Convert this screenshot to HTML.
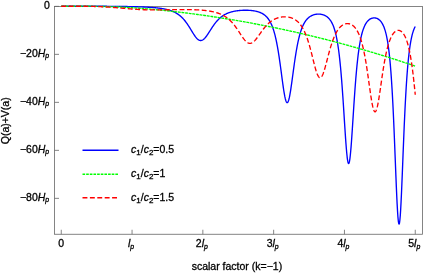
<!DOCTYPE html>
<html><head><meta charset="utf-8"><title>plot</title>
<style>
html,body{margin:0;padding:0;background:#fff;}
body{width:424px;height:273px;overflow:hidden;}
svg{display:block;will-change:transform;opacity:0.999;}
text{font-family:"Liberation Sans",sans-serif;font-size:10.5px;fill:#000;stroke:#000;stroke-width:0.3px;}
.i{font-style:italic;}
.s{font-style:italic;font-size:6.9px;}
</style></head><body>
<svg width="424" height="273" viewBox="0 0 424 273">

<defs><clipPath id="c"><rect x="54.5" y="4.45" width="368.0" height="229.8"/></clipPath></defs>

<g stroke="#666" stroke-width="0.8" fill="none">
<rect x="54.5" y="6.45" width="368.0" height="227.8"/>
<line x1="61.25" y1="234.25" x2="61.25" y2="229.75"/>
<line x1="132.05" y1="234.25" x2="132.05" y2="229.75"/>
<line x1="202.85" y1="234.25" x2="202.85" y2="229.75"/>
<line x1="273.65" y1="234.25" x2="273.65" y2="229.75"/>
<line x1="344.45" y1="234.25" x2="344.45" y2="229.75"/>
<line x1="415.25" y1="234.25" x2="415.25" y2="229.75"/>
<line x1="54.5" y1="6.35" x2="59.0" y2="6.35"/>
<line x1="54.5" y1="54.35" x2="59.0" y2="54.35"/>
<line x1="54.5" y1="102.35" x2="59.0" y2="102.35"/>
<line x1="54.5" y1="150.35" x2="59.0" y2="150.35"/>
<line x1="54.5" y1="198.35" x2="59.0" y2="198.35"/>
</g>
<g clip-path="url(#c)" fill="none" stroke-width="1.35" stroke-linejoin="round">
<path d="M61.26,6.20 L61.65,6.20 L62.04,6.20 L62.44,6.20 L62.83,6.20 L63.23,6.20 L63.62,6.20 L64.01,6.20 L64.41,6.20 L64.80,6.20 L65.19,6.20 L65.59,6.20 L65.98,6.20 L66.38,6.20 L66.77,6.20 L67.16,6.20 L67.56,6.20 L67.95,6.20 L68.34,6.20 L68.74,6.20 L69.13,6.20 L69.53,6.20 L69.92,6.20 L70.31,6.20 L70.71,6.20 L71.10,6.20 L71.49,6.20 L71.89,6.20 L72.28,6.20 L72.68,6.20 L73.07,6.20 L73.46,6.20 L73.86,6.20 L74.25,6.20 L74.65,6.20 L75.04,6.20 L75.43,6.20 L75.83,6.20 L76.22,6.20 L76.61,6.20 L77.01,6.20 L77.40,6.20 L77.80,6.20 L78.19,6.20 L78.58,6.20 L78.98,6.20 L79.37,6.20 L79.76,6.20 L80.16,6.20 L80.55,6.20 L80.95,6.20 L81.34,6.20 L81.73,6.20 L82.13,6.20 L82.52,6.21 L82.91,6.21 L83.31,6.21 L83.70,6.21 L84.10,6.21 L84.49,6.21 L84.88,6.21 L85.28,6.21 L85.67,6.21 L86.06,6.21 L86.46,6.21 L86.85,6.21 L87.25,6.21 L87.64,6.21 L88.03,6.21 L88.43,6.21 L88.82,6.21 L89.21,6.22 L89.61,6.22 L90.00,6.22 L90.40,6.22 L90.79,6.22 L91.18,6.22 L91.58,6.22 L91.97,6.22 L92.36,6.22 L92.76,6.22 L93.15,6.22 L93.55,6.23 L93.94,6.23 L94.33,6.23 L94.73,6.23 L95.12,6.23 L95.51,6.23 L95.91,6.23 L96.30,6.24 L96.70,6.24 L97.09,6.24 L97.48,6.24 L97.88,6.24 L98.27,6.24 L98.66,6.25 L99.06,6.25 L99.45,6.25 L99.85,6.25 L100.24,6.25 L100.63,6.25 L101.03,6.26 L101.42,6.26 L101.81,6.26 L102.21,6.26 L102.60,6.27 L103.00,6.27 L103.39,6.27 L103.78,6.27 L104.18,6.27 L104.57,6.28 L104.96,6.28 L105.36,6.28 L105.75,6.28 L106.15,6.29 L106.54,6.29 L106.93,6.29 L107.33,6.30 L107.72,6.30 L108.11,6.30 L108.51,6.31 L108.90,6.31 L109.30,6.31 L109.69,6.31 L110.08,6.32 L110.48,6.32 L110.87,6.33 L111.26,6.33 L111.66,6.33 L112.05,6.34 L112.45,6.34 L112.84,6.34 L113.23,6.35 L113.63,6.35 L114.02,6.36 L114.42,6.36 L114.81,6.36 L115.20,6.37 L115.60,6.37 L115.99,6.38 L116.38,6.38 L116.78,6.39 L117.17,6.39 L117.57,6.40 L117.96,6.40 L118.35,6.40 L118.75,6.41 L119.14,6.41 L119.53,6.42 L119.93,6.43 L120.32,6.43 L120.72,6.44 L121.11,6.44 L121.50,6.45 L121.90,6.45 L122.29,6.46 L122.68,6.46 L123.08,6.47 L123.47,6.48 L123.87,6.48 L124.26,6.49 L124.65,6.50 L125.05,6.50 L125.44,6.51 L125.83,6.52 L126.23,6.52 L126.62,6.53 L127.02,6.54 L127.41,6.54 L127.80,6.55 L128.20,6.56 L128.59,6.57 L128.98,6.57 L129.38,6.58 L129.77,6.59 L130.17,6.60 L130.56,6.61 L130.95,6.62 L131.35,6.62 L131.74,6.63 L132.13,6.64 L132.53,6.65 L132.92,6.66 L133.32,6.67 L133.71,6.68 L134.10,6.69 L134.50,6.70 L134.89,6.71 L135.28,6.72 L135.68,6.73 L136.07,6.74 L136.47,6.75 L136.86,6.76 L137.25,6.78 L137.65,6.79 L138.04,6.80 L138.43,6.81 L138.83,6.82 L139.22,6.84 L139.62,6.85 L140.01,6.86 L140.40,6.88 L140.80,6.89 L141.19,6.91 L141.58,6.92 L141.98,6.94 L142.37,6.95 L142.77,6.97 L143.16,6.98 L143.55,7.00 L143.95,7.02 L144.34,7.03 L144.73,7.05 L145.13,7.07 L145.52,7.09 L145.92,7.11 L146.31,7.13 L146.70,7.14 L147.10,7.17 L147.49,7.19 L147.88,7.21 L148.28,7.23 L148.67,7.25 L149.07,7.27 L149.46,7.30 L149.85,7.32 L150.25,7.35 L150.64,7.37 L151.04,7.40 L151.43,7.43 L151.82,7.45 L152.22,7.48 L152.61,7.51 L153.00,7.54 L153.40,7.57 L153.79,7.61 L154.19,7.64 L154.58,7.67 L154.97,7.71 L155.37,7.74 L155.76,7.78 L156.15,7.82 L156.55,7.86 L156.94,7.90 L157.34,7.94 L157.73,7.98 L158.12,8.03 L158.52,8.07 L158.91,8.12 L159.30,8.17 L159.70,8.22 L160.09,8.27 L160.49,8.32 L160.88,8.38 L161.27,8.44 L161.67,8.50 L162.06,8.56 L162.45,8.62 L162.85,8.68 L163.24,8.75 L163.64,8.82 L164.03,8.89 L164.42,8.97 L164.82,9.05 L165.21,9.13 L165.60,9.21 L166.00,9.29 L166.39,9.38 L166.79,9.48 L167.18,9.57 L167.57,9.67 L167.97,9.77 L168.36,9.88 L168.75,9.99 L169.15,10.10 L169.54,10.22 L169.94,10.34 L170.33,10.47 L170.72,10.60 L171.12,10.74 L171.51,10.88 L171.90,11.03 L172.30,11.19 L172.69,11.35 L173.09,11.51 L173.48,11.68 L173.87,11.86 L174.27,12.05 L174.66,12.24 L175.05,12.44 L175.45,12.65 L175.84,12.86 L176.24,13.09 L176.63,13.32 L177.02,13.56 L177.42,13.81 L177.81,14.08 L178.20,14.35 L178.60,14.63 L178.99,14.92 L179.39,15.22 L179.78,15.53 L180.17,15.86 L180.57,16.20 L180.96,16.55 L181.35,16.91 L181.75,17.28 L182.14,17.67 L182.54,18.07 L182.93,18.49 L183.32,18.91 L183.72,19.36 L184.11,19.81 L184.50,20.28 L184.90,20.77 L185.29,21.27 L185.69,21.78 L186.08,22.31 L186.47,22.85 L186.87,23.40 L187.26,23.97 L187.65,24.54 L188.05,25.13 L188.44,25.74 L188.84,26.35 L189.23,26.97 L189.62,27.60 L190.02,28.23 L190.41,28.87 L190.81,29.52 L191.20,30.17 L191.59,30.81 L191.99,31.46 L192.38,32.10 L192.77,32.74 L193.17,33.37 L193.56,33.99 L193.96,34.60 L194.35,35.19 L194.74,35.76 L195.14,36.31 L195.53,36.84 L195.92,37.34 L196.32,37.82 L196.71,38.26 L197.11,38.67 L197.50,39.04 L197.89,39.38 L198.29,39.67 L198.68,39.93 L199.07,40.14 L199.47,40.30 L199.86,40.42 L200.26,40.50 L200.65,40.53 L201.04,40.51 L201.44,40.45 L201.83,40.34 L202.22,40.18 L202.62,39.99 L203.01,39.74 L203.41,39.46 L203.80,39.14 L204.19,38.78 L204.59,38.39 L204.98,37.97 L205.37,37.51 L205.77,37.03 L206.16,36.52 L206.56,35.99 L206.95,35.44 L207.34,34.88 L207.74,34.29 L208.13,33.70 L208.52,33.10 L208.92,32.49 L209.31,31.87 L209.71,31.25 L210.10,30.63 L210.49,30.01 L210.89,29.40 L211.28,28.79 L211.67,28.18 L212.07,27.58 L212.46,26.99 L212.86,26.41 L213.25,25.83 L213.64,25.27 L214.04,24.72 L214.43,24.18 L214.82,23.66 L215.22,23.14 L215.61,22.64 L216.01,22.16 L216.40,21.68 L216.79,21.22 L217.19,20.78 L217.58,20.35 L217.97,19.93 L218.37,19.52 L218.76,19.13 L219.16,18.75 L219.55,18.38 L219.94,18.03 L220.34,17.69 L220.73,17.36 L221.12,17.04 L221.52,16.74 L221.91,16.44 L222.31,16.16 L222.70,15.88 L223.09,15.62 L223.49,15.37 L223.88,15.12 L224.27,14.89 L224.67,14.66 L225.06,14.45 L225.46,14.24 L225.85,14.04 L226.24,13.84 L226.64,13.66 L227.03,13.48 L227.43,13.31 L227.82,13.15 L228.21,12.99 L228.61,12.84 L229.00,12.70 L229.39,12.56 L229.79,12.42 L230.18,12.30 L230.58,12.18 L230.97,12.06 L231.36,11.95 L231.76,11.84 L232.15,11.74 L232.54,11.64 L232.94,11.54 L233.33,11.45 L233.73,11.37 L234.12,11.29 L234.51,11.21 L234.91,11.13 L235.30,11.06 L235.69,11.00 L236.09,10.93 L236.48,10.87 L236.88,10.81 L237.27,10.76 L237.66,10.71 L238.06,10.66 L238.45,10.61 L238.84,10.57 L239.24,10.53 L239.63,10.49 L240.03,10.46 L240.42,10.43 L240.81,10.40 L241.21,10.37 L241.60,10.34 L241.99,10.32 L242.39,10.30 L242.78,10.28 L243.18,10.27 L243.57,10.26 L243.96,10.25 L244.36,10.24 L244.75,10.23 L245.14,10.23 L245.54,10.23 L245.93,10.23 L246.33,10.23 L246.72,10.24 L247.11,10.25 L247.51,10.26 L247.90,10.27 L248.29,10.29 L248.69,10.31 L249.08,10.33 L249.48,10.36 L249.87,10.38 L250.26,10.41 L250.66,10.45 L251.05,10.48 L251.44,10.52 L251.84,10.56 L252.23,10.61 L252.63,10.66 L253.02,10.71 L253.41,10.77 L253.81,10.83 L254.20,10.89 L254.59,10.96 L254.99,11.04 L255.38,11.11 L255.78,11.20 L256.17,11.28 L256.56,11.38 L256.96,11.47 L257.35,11.58 L257.74,11.69 L258.14,11.81 L258.53,11.93 L258.93,12.06 L259.32,12.20 L259.71,12.34 L260.11,12.50 L260.50,12.66 L260.89,12.83 L261.29,13.02 L261.68,13.21 L262.08,13.42 L262.47,13.63 L262.86,13.86 L263.26,14.10 L263.65,14.36 L264.05,14.63 L264.44,14.92 L264.83,15.23 L265.23,15.56 L265.62,15.90 L266.01,16.27 L266.41,16.65 L266.80,17.07 L267.20,17.51 L267.59,17.97 L267.98,18.47 L268.38,18.99 L268.77,19.55 L269.16,20.15 L269.56,20.78 L269.95,21.46 L270.35,22.18 L270.74,22.94 L271.13,23.76 L271.53,24.63 L271.92,25.55 L272.31,26.54 L272.71,27.59 L273.10,28.70 L273.50,29.89 L273.89,31.16 L274.28,32.50 L274.68,33.93 L275.07,35.45 L275.46,37.06 L275.86,38.77 L276.25,40.58 L276.65,42.49 L277.04,44.51 L277.43,46.63 L277.83,48.86 L278.22,51.20 L278.61,53.64 L279.01,56.19 L279.40,58.83 L279.80,61.57 L280.19,64.38 L280.58,67.25 L280.98,70.18 L281.37,73.15 L281.76,76.12 L282.16,79.08 L282.55,82.01 L282.95,84.86 L283.34,87.61 L283.73,90.24 L284.13,92.69 L284.52,94.94 L284.91,96.96 L285.31,98.71 L285.70,100.17 L286.10,101.31 L286.49,102.12 L286.88,102.57 L287.28,102.67 L287.67,102.40 L288.06,101.78 L288.46,100.82 L288.85,99.53 L289.25,97.94 L289.64,96.07 L290.03,93.96 L290.43,91.63 L290.82,89.11 L291.21,86.45 L291.61,83.68 L292.00,80.82 L292.40,77.92 L292.79,74.99 L293.18,72.06 L293.58,69.15 L293.97,66.29 L294.36,63.49 L294.76,60.76 L295.15,58.12 L295.55,55.57 L295.94,53.11 L296.33,50.76 L296.73,48.52 L297.12,46.38 L297.51,44.35 L297.91,42.42 L298.30,40.59 L298.70,38.87 L299.09,37.24 L299.48,35.71 L299.88,34.27 L300.27,32.91 L300.66,31.63 L301.06,30.43 L301.45,29.30 L301.85,28.25 L302.24,27.26 L302.63,26.33 L303.03,25.45 L303.42,24.64 L303.82,23.87 L304.21,23.15 L304.60,22.48 L305.00,21.85 L305.39,21.26 L305.78,20.70 L306.18,20.19 L306.57,19.70 L306.97,19.25 L307.36,18.82 L307.75,18.42 L308.15,18.05 L308.54,17.70 L308.93,17.37 L309.33,17.07 L309.72,16.78 L310.12,16.52 L310.51,16.27 L310.90,16.04 L311.30,15.83 L311.69,15.63 L312.08,15.44 L312.48,15.27 L312.87,15.12 L313.27,14.97 L313.66,14.84 L314.05,14.72 L314.45,14.61 L314.84,14.52 L315.23,14.43 L315.63,14.35 L316.02,14.29 L316.42,14.23 L316.81,14.19 L317.20,14.15 L317.60,14.12 L317.99,14.11 L318.38,14.10 L318.78,14.10 L319.17,14.11 L319.57,14.13 L319.96,14.16 L320.35,14.20 L320.75,14.26 L321.14,14.32 L321.53,14.39 L321.93,14.47 L322.32,14.57 L322.72,14.67 L323.11,14.79 L323.50,14.92 L323.90,15.07 L324.29,15.23 L324.68,15.40 L325.08,15.59 L325.47,15.80 L325.87,16.02 L326.26,16.26 L326.65,16.53 L327.05,16.81 L327.44,17.12 L327.83,17.45 L328.23,17.81 L328.62,18.19 L329.02,18.61 L329.41,19.06 L329.80,19.54 L330.20,20.06 L330.59,20.63 L330.98,21.23 L331.38,21.89 L331.77,22.60 L332.17,23.36 L332.56,24.19 L332.95,25.08 L333.35,26.05 L333.74,27.09 L334.13,28.22 L334.53,29.45 L334.92,30.77 L335.32,32.21 L335.71,33.77 L336.10,35.46 L336.50,37.29 L336.89,39.28 L337.28,41.43 L337.68,43.76 L338.07,46.29 L338.47,49.02 L338.86,51.98 L339.25,55.17 L339.65,58.61 L340.04,62.31 L340.44,66.29 L340.83,70.54 L341.22,75.08 L341.62,79.90 L342.01,85.00 L342.40,90.37 L342.80,95.99 L343.19,101.82 L343.59,107.82 L343.98,113.94 L344.37,120.11 L344.77,126.25 L345.16,132.28 L345.55,138.08 L345.95,143.54 L346.34,148.56 L346.74,153.02 L347.13,156.80 L347.52,159.82 L347.92,161.98 L348.31,163.24 L348.70,163.54 L349.10,162.89 L349.49,161.31 L349.89,158.84 L350.28,155.54 L350.67,151.52 L351.07,146.87 L351.46,141.71 L351.85,136.14 L352.25,130.29 L352.64,124.26 L353.04,118.15 L353.43,112.04 L353.82,106.02 L354.22,100.13 L354.61,94.43 L355.00,88.96 L355.40,83.74 L355.79,78.80 L356.19,74.13 L356.58,69.75 L356.97,65.64 L357.37,61.82 L357.76,58.26 L358.15,54.95 L358.55,51.89 L358.94,49.05 L359.34,46.43 L359.73,44.02 L360.12,41.79 L360.52,39.73 L360.91,37.83 L361.30,36.09 L361.70,34.48 L362.09,32.99 L362.49,31.63 L362.88,30.37 L363.27,29.21 L363.67,28.14 L364.06,27.16 L364.45,26.26 L364.85,25.42 L365.24,24.65 L365.64,23.95 L366.03,23.30 L366.42,22.70 L366.82,22.15 L367.21,21.65 L367.60,21.18 L368.00,20.76 L368.39,20.37 L368.79,20.02 L369.18,19.70 L369.57,19.41 L369.97,19.15 L370.36,18.92 L370.75,18.72 L371.15,18.54 L371.54,18.38 L371.94,18.25 L372.33,18.13 L372.72,18.05 L373.12,17.98 L373.51,17.93 L373.90,17.91 L374.30,17.90 L374.69,17.92 L375.09,17.96 L375.48,18.02 L375.87,18.10 L376.27,18.21 L376.66,18.34 L377.05,18.49 L377.45,18.67 L377.84,18.87 L378.24,19.10 L378.63,19.36 L379.02,19.65 L379.42,19.98 L379.81,20.34 L380.21,20.73 L380.60,21.17 L380.99,21.65 L381.39,22.18 L381.78,22.76 L382.17,23.39 L382.57,24.08 L382.96,24.84 L383.36,25.68 L383.75,26.59 L384.14,27.58 L384.54,28.67 L384.93,29.87 L385.32,31.18 L385.72,32.62 L386.11,34.20 L386.51,35.93 L386.90,37.83 L387.29,39.92 L387.69,42.21 L388.08,44.74 L388.47,47.52 L388.87,50.57 L389.26,53.93 L389.66,57.63 L390.05,61.68 L390.44,66.14 L390.84,71.02 L391.23,76.35 L391.62,82.18 L392.02,88.52 L392.41,95.40 L392.81,102.82 L393.20,110.78 L393.59,119.28 L393.99,128.26 L394.38,137.67 L394.77,147.43 L395.17,157.41 L395.56,167.45 L395.96,177.37 L396.35,186.95 L396.74,195.94 L397.14,204.10 L397.53,211.15 L397.92,216.86 L398.32,221.02 L398.71,223.47 L399.11,224.12 L399.50,222.94 L399.89,219.97 L400.29,215.35 L400.68,209.23 L401.07,201.86 L401.47,193.47 L401.86,184.32 L402.26,174.66 L402.65,164.74 L403.04,154.76 L403.44,144.90 L403.83,135.31 L404.22,126.08 L404.62,117.30 L405.01,109.03 L405.41,101.29 L405.80,94.09 L406.19,87.43 L406.59,81.30 L406.98,75.67 L407.37,70.52 L407.77,65.81 L408.16,61.53 L408.56,57.62 L408.95,54.07 L409.34,50.84 L409.74,47.91 L410.13,45.25 L410.52,42.83 L410.92,40.63 L411.31,38.64 L411.71,36.82 L412.10,35.18 L412.49,33.68 L412.89,32.32 L413.28,31.09 L413.67,29.97 L414.07,28.95 L414.46,28.03 L414.86,27.19 L415.25,26.44" stroke="#0000ff"/>
<path d="M61.26,6.20 L62.68,6.20 L64.10,6.20 L65.52,6.20 L66.94,6.20 L68.37,6.20 L69.79,6.20 L71.21,6.20 L72.63,6.20 L74.05,6.20 L75.47,6.20 L76.90,6.21 L78.32,6.21 L79.74,6.21 L81.16,6.22 L82.58,6.22 L84.00,6.23 L85.43,6.23 L86.85,6.24 L88.27,6.25 L89.69,6.26 L91.11,6.28 L92.53,6.29 L93.96,6.31 L95.38,6.33 L96.80,6.35 L98.22,6.37 L99.64,6.40 L101.06,6.43 L102.49,6.46 L103.91,6.49 L105.33,6.53 L106.75,6.56 L108.17,6.60 L109.59,6.65 L111.02,6.70 L112.44,6.75 L113.86,6.80 L115.28,6.85 L116.70,6.91 L118.12,6.98 L119.55,7.04 L120.97,7.11 L122.39,7.18 L123.81,7.25 L125.23,7.33 L126.65,7.41 L128.08,7.49 L129.50,7.58 L130.92,7.67 L132.34,7.76 L133.76,7.85 L135.18,7.95 L136.60,8.05 L138.03,8.15 L139.45,8.25 L140.87,8.36 L142.29,8.47 L143.71,8.58 L145.13,8.70 L146.56,8.82 L147.98,8.94 L149.40,9.06 L150.82,9.18 L152.24,9.31 L153.66,9.44 L155.09,9.57 L156.51,9.71 L157.93,9.84 L159.35,9.98 L160.77,10.12 L162.19,10.27 L163.62,10.41 L165.04,10.56 L166.46,10.71 L167.88,10.86 L169.30,11.01 L170.72,11.17 L172.15,11.33 L173.57,11.49 L174.99,11.65 L176.41,11.81 L177.83,11.98 L179.25,12.15 L180.68,12.32 L182.10,12.49 L183.52,12.66 L184.94,12.84 L186.36,13.01 L187.78,13.19 L189.21,13.38 L190.63,13.56 L192.05,13.74 L193.47,13.93 L194.89,14.12 L196.31,14.31 L197.74,14.50 L199.16,14.70 L200.58,14.89 L202.00,15.09 L203.42,15.29 L204.84,15.49 L206.27,15.70 L207.69,15.90 L209.11,16.11 L210.53,16.32 L211.95,16.53 L213.37,16.75 L214.80,16.96 L216.22,17.18 L217.64,17.40 L219.06,17.62 L220.48,17.84 L221.90,18.06 L223.33,18.29 L224.75,18.52 L226.17,18.75 L227.59,18.98 L229.01,19.21 L230.43,19.45 L231.86,19.69 L233.28,19.92 L234.70,20.16 L236.12,20.41 L237.54,20.65 L238.96,20.90 L240.39,21.15 L241.81,21.40 L243.23,21.65 L244.65,21.90 L246.07,22.16 L247.49,22.42 L248.92,22.68 L250.34,22.94 L251.76,23.20 L253.18,23.47 L254.60,23.73 L256.02,24.00 L257.45,24.27 L258.87,24.54 L260.29,24.82 L261.71,25.09 L263.13,25.37 L264.55,25.65 L265.98,25.93 L267.40,26.22 L268.82,26.50 L270.24,26.79 L271.66,27.08 L273.08,27.37 L274.51,27.66 L275.93,27.96 L277.35,28.26 L278.77,28.55 L280.19,28.86 L281.61,29.16 L283.04,29.46 L284.46,29.77 L285.88,30.08 L287.30,30.39 L288.72,30.70 L290.14,31.01 L291.57,31.33 L292.99,31.64 L294.41,31.96 L295.83,32.29 L297.25,32.61 L298.67,32.93 L300.10,33.26 L301.52,33.59 L302.94,33.92 L304.36,34.25 L305.78,34.59 L307.20,34.92 L308.63,35.26 L310.05,35.60 L311.47,35.94 L312.89,36.29 L314.31,36.63 L315.73,36.98 L317.16,37.33 L318.58,37.68 L320.00,38.04 L321.42,38.39 L322.84,38.75 L324.26,39.11 L325.69,39.47 L327.11,39.83 L328.53,40.20 L329.95,40.57 L331.37,40.93 L332.79,41.31 L334.22,41.68 L335.64,42.05 L337.06,42.43 L338.48,42.81 L339.90,43.19 L341.32,43.57 L342.75,43.95 L344.17,44.34 L345.59,44.73 L347.01,45.12 L348.43,45.51 L349.85,45.90 L351.28,46.30 L352.70,46.70 L354.12,47.09 L355.54,47.50 L356.96,47.90 L358.38,48.30 L359.81,48.71 L361.23,49.12 L362.65,49.53 L364.07,49.94 L365.49,50.36 L366.91,50.78 L368.34,51.19 L369.76,51.61 L371.18,52.04 L372.60,52.46 L374.02,52.89 L375.44,53.31 L376.87,53.74 L378.29,54.18 L379.71,54.61 L381.13,55.05 L382.55,55.48 L383.97,55.92 L385.40,56.37 L386.82,56.81 L388.24,57.25 L389.66,57.70 L391.08,58.15 L392.50,58.60 L393.93,59.05 L395.35,59.51 L396.77,59.97 L398.19,60.43 L399.61,60.89 L401.03,61.35 L402.46,61.81 L403.88,62.28 L405.30,62.75 L406.72,63.22 L408.14,63.69 L409.56,64.17 L410.99,64.64 L412.41,65.12 L413.83,65.60 L415.25,66.08" stroke="#00ff00" stroke-dasharray="2.9,0.75"/>
<path d="M61.26,6.20 L61.65,6.20 L62.04,6.20 L62.44,6.20 L62.83,6.20 L63.23,6.20 L63.62,6.20 L64.01,6.20 L64.41,6.20 L64.80,6.20 L65.19,6.20 L65.59,6.20 L65.98,6.20 L66.38,6.20 L66.77,6.20 L67.16,6.20 L67.56,6.20 L67.95,6.20 L68.34,6.20 L68.74,6.20 L69.13,6.20 L69.53,6.20 L69.92,6.20 L70.31,6.20 L70.71,6.20 L71.10,6.20 L71.49,6.20 L71.89,6.20 L72.28,6.20 L72.68,6.20 L73.07,6.20 L73.46,6.21 L73.86,6.21 L74.25,6.21 L74.65,6.21 L75.04,6.21 L75.43,6.21 L75.83,6.21 L76.22,6.21 L76.61,6.21 L77.01,6.21 L77.40,6.22 L77.80,6.22 L78.19,6.22 L78.58,6.22 L78.98,6.22 L79.37,6.22 L79.76,6.23 L80.16,6.23 L80.55,6.23 L80.95,6.23 L81.34,6.24 L81.73,6.24 L82.13,6.24 L82.52,6.25 L82.91,6.25 L83.31,6.25 L83.70,6.26 L84.10,6.26 L84.49,6.27 L84.88,6.27 L85.28,6.28 L85.67,6.28 L86.06,6.29 L86.46,6.29 L86.85,6.30 L87.25,6.30 L87.64,6.31 L88.03,6.31 L88.43,6.32 L88.82,6.33 L89.21,6.34 L89.61,6.34 L90.00,6.35 L90.40,6.36 L90.79,6.37 L91.18,6.38 L91.58,6.38 L91.97,6.39 L92.36,6.40 L92.76,6.41 L93.15,6.42 L93.55,6.43 L93.94,6.44 L94.33,6.46 L94.73,6.47 L95.12,6.48 L95.51,6.49 L95.91,6.50 L96.30,6.52 L96.70,6.53 L97.09,6.54 L97.48,6.56 L97.88,6.57 L98.27,6.59 L98.66,6.60 L99.06,6.62 L99.45,6.63 L99.85,6.65 L100.24,6.67 L100.63,6.68 L101.03,6.70 L101.42,6.72 L101.81,6.74 L102.21,6.76 L102.60,6.78 L103.00,6.80 L103.39,6.82 L103.78,6.84 L104.18,6.86 L104.57,6.88 L104.96,6.90 L105.36,6.92 L105.75,6.94 L106.15,6.97 L106.54,6.99 L106.93,7.01 L107.33,7.04 L107.72,7.06 L108.11,7.09 L108.51,7.11 L108.90,7.14 L109.30,7.16 L109.69,7.19 L110.08,7.22 L110.48,7.24 L110.87,7.27 L111.26,7.30 L111.66,7.33 L112.05,7.36 L112.45,7.38 L112.84,7.41 L113.23,7.44 L113.63,7.47 L114.02,7.50 L114.42,7.53 L114.81,7.56 L115.20,7.60 L115.60,7.63 L115.99,7.66 L116.38,7.69 L116.78,7.72 L117.17,7.76 L117.57,7.79 L117.96,7.82 L118.35,7.85 L118.75,7.89 L119.14,7.92 L119.53,7.95 L119.93,7.99 L120.32,8.02 L120.72,8.05 L121.11,8.09 L121.50,8.12 L121.90,8.16 L122.29,8.19 L122.68,8.23 L123.08,8.26 L123.47,8.29 L123.87,8.33 L124.26,8.36 L124.65,8.40 L125.05,8.43 L125.44,8.47 L125.83,8.50 L126.23,8.53 L126.62,8.57 L127.02,8.60 L127.41,8.64 L127.80,8.67 L128.20,8.70 L128.59,8.74 L128.98,8.77 L129.38,8.80 L129.77,8.83 L130.17,8.87 L130.56,8.90 L130.95,8.93 L131.35,8.96 L131.74,8.99 L132.13,9.02 L132.53,9.05 L132.92,9.08 L133.32,9.11 L133.71,9.14 L134.10,9.17 L134.50,9.20 L134.89,9.23 L135.28,9.26 L135.68,9.28 L136.07,9.31 L136.47,9.34 L136.86,9.36 L137.25,9.39 L137.65,9.41 L138.04,9.44 L138.43,9.46 L138.83,9.48 L139.22,9.51 L139.62,9.53 L140.01,9.55 L140.40,9.57 L140.80,9.59 L141.19,9.61 L141.58,9.63 L141.98,9.65 L142.37,9.67 L142.77,9.69 L143.16,9.70 L143.55,9.72 L143.95,9.74 L144.34,9.75 L144.73,9.77 L145.13,9.78 L145.52,9.79 L145.92,9.81 L146.31,9.82 L146.70,9.83 L147.10,9.84 L147.49,9.85 L147.88,9.86 L148.28,9.87 L148.67,9.88 L149.07,9.89 L149.46,9.89 L149.85,9.90 L150.25,9.91 L150.64,9.91 L151.04,9.92 L151.43,9.92 L151.82,9.93 L152.22,9.93 L152.61,9.93 L153.00,9.93 L153.40,9.94 L153.79,9.94 L154.19,9.94 L154.58,9.94 L154.97,9.94 L155.37,9.94 L155.76,9.94 L156.15,9.94 L156.55,9.94 L156.94,9.94 L157.34,9.93 L157.73,9.93 L158.12,9.93 L158.52,9.92 L158.91,9.92 L159.30,9.92 L159.70,9.91 L160.09,9.91 L160.49,9.90 L160.88,9.90 L161.27,9.89 L161.67,9.89 L162.06,9.88 L162.45,9.88 L162.85,9.87 L163.24,9.86 L163.64,9.86 L164.03,9.85 L164.42,9.84 L164.82,9.84 L165.21,9.83 L165.60,9.82 L166.00,9.81 L166.39,9.81 L166.79,9.80 L167.18,9.79 L167.57,9.78 L167.97,9.78 L168.36,9.77 L168.75,9.76 L169.15,9.75 L169.54,9.75 L169.94,9.74 L170.33,9.73 L170.72,9.72 L171.12,9.72 L171.51,9.71 L171.90,9.70 L172.30,9.69 L172.69,9.69 L173.09,9.68 L173.48,9.67 L173.87,9.67 L174.27,9.66 L174.66,9.65 L175.05,9.65 L175.45,9.64 L175.84,9.63 L176.24,9.63 L176.63,9.62 L177.02,9.62 L177.42,9.61 L177.81,9.61 L178.20,9.60 L178.60,9.60 L178.99,9.59 L179.39,9.59 L179.78,9.59 L180.17,9.58 L180.57,9.58 L180.96,9.58 L181.35,9.58 L181.75,9.57 L182.14,9.57 L182.54,9.57 L182.93,9.57 L183.32,9.57 L183.72,9.57 L184.11,9.57 L184.50,9.57 L184.90,9.57 L185.29,9.57 L185.69,9.57 L186.08,9.57 L186.47,9.58 L186.87,9.58 L187.26,9.58 L187.65,9.59 L188.05,9.59 L188.44,9.60 L188.84,9.60 L189.23,9.61 L189.62,9.62 L190.02,9.62 L190.41,9.63 L190.81,9.64 L191.20,9.65 L191.59,9.66 L191.99,9.67 L192.38,9.68 L192.77,9.69 L193.17,9.70 L193.56,9.71 L193.96,9.73 L194.35,9.74 L194.74,9.76 L195.14,9.77 L195.53,9.79 L195.92,9.80 L196.32,9.82 L196.71,9.84 L197.11,9.86 L197.50,9.88 L197.89,9.90 L198.29,9.92 L198.68,9.95 L199.07,9.97 L199.47,10.00 L199.86,10.02 L200.26,10.05 L200.65,10.08 L201.04,10.11 L201.44,10.14 L201.83,10.17 L202.22,10.20 L202.62,10.24 L203.01,10.27 L203.41,10.31 L203.80,10.35 L204.19,10.39 L204.59,10.43 L204.98,10.47 L205.37,10.51 L205.77,10.56 L206.16,10.61 L206.56,10.65 L206.95,10.71 L207.34,10.76 L207.74,10.81 L208.13,10.87 L208.52,10.93 L208.92,10.99 L209.31,11.05 L209.71,11.11 L210.10,11.18 L210.49,11.25 L210.89,11.32 L211.28,11.39 L211.67,11.47 L212.07,11.55 L212.46,11.63 L212.86,11.71 L213.25,11.80 L213.64,11.89 L214.04,11.98 L214.43,12.08 L214.82,12.18 L215.22,12.29 L215.61,12.39 L216.01,12.50 L216.40,12.62 L216.79,12.74 L217.19,12.86 L217.58,12.99 L217.97,13.12 L218.37,13.26 L218.76,13.40 L219.16,13.54 L219.55,13.70 L219.94,13.85 L220.34,14.02 L220.73,14.18 L221.12,14.36 L221.52,14.54 L221.91,14.72 L222.31,14.92 L222.70,15.12 L223.09,15.32 L223.49,15.54 L223.88,15.76 L224.27,15.99 L224.67,16.23 L225.06,16.47 L225.46,16.72 L225.85,16.99 L226.24,17.26 L226.64,17.54 L227.03,17.83 L227.43,18.13 L227.82,18.44 L228.21,18.76 L228.61,19.09 L229.00,19.43 L229.39,19.79 L229.79,20.15 L230.18,20.52 L230.58,20.91 L230.97,21.31 L231.36,21.72 L231.76,22.14 L232.15,22.57 L232.54,23.02 L232.94,23.48 L233.33,23.95 L233.73,24.43 L234.12,24.93 L234.51,25.43 L234.91,25.95 L235.30,26.48 L235.69,27.02 L236.09,27.56 L236.48,28.12 L236.88,28.69 L237.27,29.27 L237.66,29.85 L238.06,30.44 L238.45,31.04 L238.84,31.64 L239.24,32.24 L239.63,32.84 L240.03,33.45 L240.42,34.05 L240.81,34.66 L241.21,35.25 L241.60,35.85 L241.99,36.43 L242.39,37.00 L242.78,37.56 L243.18,38.11 L243.57,38.64 L243.96,39.16 L244.36,39.65 L244.75,40.12 L245.14,40.56 L245.54,40.98 L245.93,41.37 L246.33,41.73 L246.72,42.06 L247.11,42.35 L247.51,42.61 L247.90,42.83 L248.29,43.01 L248.69,43.16 L249.08,43.27 L249.48,43.33 L249.87,43.36 L250.26,43.35 L250.66,43.30 L251.05,43.20 L251.44,43.07 L251.84,42.91 L252.23,42.70 L252.63,42.46 L253.02,42.19 L253.41,41.88 L253.81,41.55 L254.20,41.18 L254.59,40.79 L254.99,40.37 L255.38,39.93 L255.78,39.47 L256.17,38.99 L256.56,38.49 L256.96,37.98 L257.35,37.46 L257.74,36.92 L258.14,36.38 L258.53,35.83 L258.93,35.28 L259.32,34.72 L259.71,34.16 L260.11,33.60 L260.50,33.04 L260.89,32.49 L261.29,31.94 L261.68,31.39 L262.08,30.85 L262.47,30.32 L262.86,29.80 L263.26,29.28 L263.65,28.77 L264.05,28.27 L264.44,27.79 L264.83,27.31 L265.23,26.85 L265.62,26.39 L266.01,25.95 L266.41,25.52 L266.80,25.10 L267.20,24.70 L267.59,24.30 L267.98,23.92 L268.38,23.55 L268.77,23.19 L269.16,22.84 L269.56,22.51 L269.95,22.19 L270.35,21.87 L270.74,21.57 L271.13,21.28 L271.53,21.01 L271.92,20.74 L272.31,20.48 L272.71,20.23 L273.10,20.00 L273.50,19.77 L273.89,19.55 L274.28,19.35 L274.68,19.15 L275.07,18.96 L275.46,18.78 L275.86,18.61 L276.25,18.44 L276.65,18.29 L277.04,18.14 L277.43,18.01 L277.83,17.88 L278.22,17.76 L278.61,17.64 L279.01,17.54 L279.40,17.44 L279.80,17.35 L280.19,17.26 L280.58,17.18 L280.98,17.11 L281.37,17.05 L281.76,17.00 L282.16,16.95 L282.55,16.91 L282.95,16.87 L283.34,16.84 L283.73,16.82 L284.13,16.81 L284.52,16.80 L284.91,16.80 L285.31,16.81 L285.70,16.82 L286.10,16.84 L286.49,16.87 L286.88,16.91 L287.28,16.95 L287.67,17.00 L288.06,17.06 L288.46,17.13 L288.85,17.20 L289.25,17.29 L289.64,17.38 L290.03,17.48 L290.43,17.59 L290.82,17.71 L291.21,17.83 L291.61,17.97 L292.00,18.12 L292.40,18.28 L292.79,18.45 L293.18,18.63 L293.58,18.82 L293.97,19.02 L294.36,19.24 L294.76,19.47 L295.15,19.72 L295.55,19.97 L295.94,20.25 L296.33,20.54 L296.73,20.84 L297.12,21.17 L297.51,21.51 L297.91,21.87 L298.30,22.24 L298.70,22.64 L299.09,23.06 L299.48,23.51 L299.88,23.97 L300.27,24.46 L300.66,24.98 L301.06,25.52 L301.45,26.09 L301.85,26.69 L302.24,27.32 L302.63,27.98 L303.03,28.68 L303.42,29.41 L303.82,30.17 L304.21,30.97 L304.60,31.81 L305.00,32.68 L305.39,33.60 L305.78,34.56 L306.18,35.56 L306.57,36.60 L306.97,37.68 L307.36,38.81 L307.75,39.99 L308.15,41.20 L308.54,42.47 L308.93,43.77 L309.33,45.11 L309.72,46.50 L310.12,47.92 L310.51,49.38 L310.90,50.88 L311.30,52.40 L311.69,53.94 L312.08,55.50 L312.48,57.08 L312.87,58.66 L313.27,60.24 L313.66,61.81 L314.05,63.36 L314.45,64.89 L314.84,66.38 L315.23,67.82 L315.63,69.20 L316.02,70.51 L316.42,71.74 L316.81,72.88 L317.20,73.93 L317.60,74.86 L317.99,75.67 L318.38,76.36 L318.78,76.91 L319.17,77.32 L319.57,77.59 L319.96,77.71 L320.35,77.69 L320.75,77.52 L321.14,77.21 L321.53,76.76 L321.93,76.17 L322.32,75.45 L322.72,74.62 L323.11,73.67 L323.50,72.61 L323.90,71.47 L324.29,70.24 L324.68,68.94 L325.08,67.58 L325.47,66.17 L325.87,64.72 L326.26,63.23 L326.65,61.73 L327.05,60.21 L327.44,58.69 L327.83,57.18 L328.23,55.67 L328.62,54.18 L329.02,52.72 L329.41,51.28 L329.80,49.87 L330.20,48.49 L330.59,47.16 L330.98,45.86 L331.38,44.60 L331.77,43.38 L332.17,42.21 L332.56,41.08 L332.95,40.00 L333.35,38.96 L333.74,37.96 L334.13,37.01 L334.53,36.09 L334.92,35.22 L335.32,34.39 L335.71,33.60 L336.10,32.85 L336.50,32.14 L336.89,31.47 L337.28,30.82 L337.68,30.22 L338.07,29.65 L338.47,29.10 L338.86,28.59 L339.25,28.11 L339.65,27.66 L340.04,27.24 L340.44,26.85 L340.83,26.48 L341.22,26.13 L341.62,25.81 L342.01,25.52 L342.40,25.25 L342.80,25.00 L343.19,24.77 L343.59,24.56 L343.98,24.38 L344.37,24.22 L344.77,24.07 L345.16,23.95 L345.55,23.84 L345.95,23.76 L346.34,23.69 L346.74,23.65 L347.13,23.62 L347.52,23.61 L347.92,23.63 L348.31,23.66 L348.70,23.71 L349.10,23.78 L349.49,23.87 L349.89,23.98 L350.28,24.11 L350.67,24.27 L351.07,24.45 L351.46,24.65 L351.85,24.87 L352.25,25.12 L352.64,25.39 L353.04,25.69 L353.43,26.01 L353.82,26.37 L354.22,26.75 L354.61,27.17 L355.00,27.62 L355.40,28.10 L355.79,28.62 L356.19,29.17 L356.58,29.77 L356.97,30.41 L357.37,31.09 L357.76,31.82 L358.15,32.60 L358.55,33.43 L358.94,34.32 L359.34,35.26 L359.73,36.26 L360.12,37.33 L360.52,38.46 L360.91,39.66 L361.30,40.94 L361.70,42.29 L362.09,43.72 L362.49,45.24 L362.88,46.84 L363.27,48.53 L363.67,50.32 L364.06,52.19 L364.45,54.16 L364.85,56.23 L365.24,58.39 L365.64,60.65 L366.03,63.00 L366.42,65.43 L366.82,67.96 L367.21,70.56 L367.60,73.23 L368.00,75.95 L368.39,78.73 L368.79,81.53 L369.18,84.35 L369.57,87.17 L369.97,89.95 L370.36,92.68 L370.75,95.34 L371.15,97.89 L371.54,100.31 L371.94,102.56 L372.33,104.63 L372.72,106.48 L373.12,108.09 L373.51,109.43 L373.90,110.49 L374.30,111.25 L374.69,111.70 L375.09,111.83 L375.48,111.64 L375.87,111.13 L376.27,110.32 L376.66,109.22 L377.05,107.84 L377.45,106.20 L377.84,104.33 L378.24,102.26 L378.63,100.01 L379.02,97.61 L379.42,95.08 L379.81,92.47 L380.21,89.79 L380.60,87.07 L380.99,84.32 L381.39,81.58 L381.78,78.86 L382.17,76.18 L382.57,73.55 L382.96,70.98 L383.36,68.48 L383.75,66.06 L384.14,63.73 L384.54,61.49 L384.93,59.34 L385.32,57.29 L385.72,55.33 L386.11,53.47 L386.51,51.70 L386.90,50.03 L387.29,48.44 L387.69,46.95 L388.08,45.54 L388.47,44.21 L388.87,42.96 L389.26,41.79 L389.66,40.70 L390.05,39.67 L390.44,38.71 L390.84,37.82 L391.23,36.99 L391.62,36.22 L392.02,35.51 L392.41,34.85 L392.81,34.24 L393.20,33.68 L393.59,33.18 L393.99,32.72 L394.38,32.30 L394.77,31.93 L395.17,31.60 L395.56,31.31 L395.96,31.06 L396.35,30.85 L396.74,30.67 L397.14,30.54 L397.53,30.44 L397.92,30.39 L398.32,30.37 L398.71,30.38 L399.11,30.44 L399.50,30.53 L399.89,30.66 L400.29,30.83 L400.68,31.04 L401.07,31.29 L401.47,31.58 L401.86,31.92 L402.26,32.30 L402.65,32.73 L403.04,33.21 L403.44,33.75 L403.83,34.33 L404.22,34.98 L404.62,35.68 L405.01,36.45 L405.41,37.28 L405.80,38.19 L406.19,39.17 L406.59,40.23 L406.98,41.38 L407.37,42.61 L407.77,43.95 L408.16,45.38 L408.56,46.92 L408.95,48.57 L409.34,50.35 L409.74,52.25 L410.13,54.28 L410.52,56.45 L410.92,58.77 L411.31,61.25 L411.71,63.87 L412.10,66.66 L412.49,69.62 L412.89,72.74 L413.28,76.03 L413.67,79.48 L414.07,83.10 L414.46,86.86 L414.86,90.77 L415.25,94.80" stroke="#ff0000" stroke-dasharray="4.9,2.5"/>
</g>
<text x="61.25" y="247.0" text-anchor="middle">0</text>
<text x="131.05" y="247.0" text-anchor="middle"><tspan class="i">l</tspan><tspan class="s" dy="1.6">p</tspan></text>
<text x="201.85" y="247.0" text-anchor="middle">2<tspan class="i">l</tspan><tspan class="s" dy="1.6">p</tspan></text>
<text x="272.65" y="247.0" text-anchor="middle">3<tspan class="i">l</tspan><tspan class="s" dy="1.6">p</tspan></text>
<text x="343.45" y="247.0" text-anchor="middle">4<tspan class="i">l</tspan><tspan class="s" dy="1.6">p</tspan></text>
<text x="414.25" y="247.0" text-anchor="middle">5<tspan class="i">l</tspan><tspan class="s" dy="1.6">p</tspan></text>
<text x="49.9" y="8.55" text-anchor="end">0</text>
<text x="49.2" y="56.55" text-anchor="end">−20<tspan class="i">H</tspan><tspan class="s" dy="1.6">p</tspan></text>
<text x="49.2" y="104.55" text-anchor="end">−40<tspan class="i">H</tspan><tspan class="s" dy="1.6">p</tspan></text>
<text x="49.2" y="152.55" text-anchor="end">−60<tspan class="i">H</tspan><tspan class="s" dy="1.6">p</tspan></text>
<text x="49.2" y="200.55" text-anchor="end">−80<tspan class="i">H</tspan><tspan class="s" dy="1.6">p</tspan></text>
<text x="236.9" y="270" text-anchor="middle">scalar factor (k=−1)</text>
<text transform="translate(8.8,120.8) rotate(-90)" text-anchor="middle">Q(a)+V(a)</text>
<g fill="none" stroke-width="1.35">
<line x1="82.5" y1="150.25" x2="118.5" y2="150.25" stroke="#0000ff"/>
<line x1="82.5" y1="174.25" x2="118.5" y2="174.25" stroke="#00ff00" stroke-dasharray="2.65,1.0"/>
<line x1="82.5" y1="197.75" x2="118.5" y2="197.75" stroke="#ff0000" stroke-dasharray="4.9,2.5"/>
</g>
<text x="131" y="153.35"><tspan class="i">c</tspan><tspan style="font-size:8.0px" dy="1.7">1</tspan><tspan dy="-1.7">/</tspan><tspan class="i">c</tspan><tspan style="font-size:8.0px" dy="1.7">2</tspan><tspan dy="-1.7">=0.5</tspan></text>
<text x="131" y="177.35"><tspan class="i">c</tspan><tspan style="font-size:8.0px" dy="1.7">1</tspan><tspan dy="-1.7">/</tspan><tspan class="i">c</tspan><tspan style="font-size:8.0px" dy="1.7">2</tspan><tspan dy="-1.7">=1</tspan></text>
<text x="131" y="200.85"><tspan class="i">c</tspan><tspan style="font-size:8.0px" dy="1.7">1</tspan><tspan dy="-1.7">/</tspan><tspan class="i">c</tspan><tspan style="font-size:8.0px" dy="1.7">2</tspan><tspan dy="-1.7">=1.5</tspan></text>
</svg></body></html>
